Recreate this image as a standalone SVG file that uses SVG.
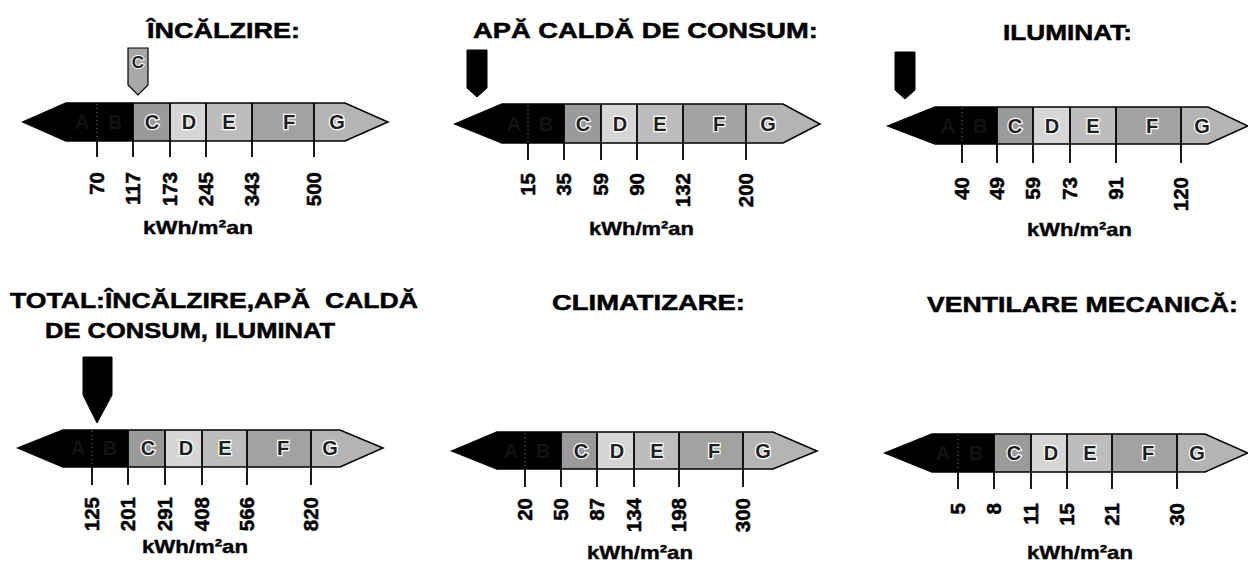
<svg xmlns="http://www.w3.org/2000/svg" width="1248" height="566" viewBox="0 0 1248 566">
<style>
text{font-family:"Liberation Sans",Arial,sans-serif;font-weight:bold;fill:#000}
.title{font-size:22px;stroke:#000;stroke-width:0.5px}
.unit{font-size:19px;stroke:#000;stroke-width:0.4px}
.num{font-size:20.5px;text-anchor:end;stroke:#000;stroke-width:0.5px}
.lt{font-size:20px;text-anchor:middle;fill:#1e1e1e;stroke:#fff;stroke-width:2.5px;paint-order:stroke}
.fa{font-size:20px;text-anchor:middle;fill:#121212}
.blk{fill:#000}
.sC{fill:#9a9a9a}.sD{fill:#d6d6d6}.sE{fill:#bdbdbd}.sF{fill:#a2a2a2}.sG{fill:#b4b4b4}
.out{fill:none;stroke:#000;stroke-width:1.5}
.div{stroke:#000;stroke-width:1.8}
.dot{stroke:#fff;stroke-width:1;stroke-dasharray:1 3;opacity:.5}
.ind{fill:#000;stroke:#000;stroke-width:1}
.indg{fill:#a8a8a8;stroke:#000;stroke-width:1.2}
.il{font-size:17px;text-anchor:middle;fill:#1e1e1e;stroke:#fff;stroke-width:2px;paint-order:stroke}
</style>

<g id="panel-incalzire">
<text class="title" x="147" y="38" textLength="153" lengthAdjust="spacingAndGlyphs">ÎNCĂLZIRE:</text>
<path class="indg" d="M128,48 H148 V85 L138,95 L128,85 Z"/>
<text class="il" x="138" y="68">C</text>
<polygon class="blk" points="23,122 66,103 133,103 133,141 66,141"/>
<rect class="sC" x="133" y="103" width="37" height="38"/>
<rect class="sD" x="170" y="103" width="36" height="38"/>
<rect class="sE" x="206" y="103" width="46" height="38"/>
<rect class="sF" x="252" y="103" width="62" height="38"/>
<polygon class="sG" points="314,103 345,103 388,122 345,141 314,141"/>
<path class="out" d="M23,122 L66,103 H345 L388,122 L345,141 H66 Z"/>
<line class="dot" x1="97" y1="104" x2="97" y2="140"/>
<g class="ticks">
<line class="div" x1="97" y1="141" x2="97" y2="157"/>
<line class="div" x1="133" y1="103" x2="133" y2="157"/>
<line class="div" x1="170" y1="103" x2="170" y2="157"/>
<line class="div" x1="206" y1="103" x2="206" y2="157"/>
<line class="div" x1="252" y1="103" x2="252" y2="157"/>
<line class="div" x1="314" y1="103" x2="314" y2="157"/>
</g>
<text class="fa" x="82" y="129">A</text><text class="fa" x="115" y="129">B</text>
<text class="lt" x="152" y="129">C</text><text class="lt" x="189" y="129">D</text><text class="lt" x="229" y="129">E</text><text class="lt" x="289" y="129">F</text><text class="lt" x="337" y="129">G</text>
<text class="num" transform="translate(104,172) rotate(-90)">70</text>
<text class="num" transform="translate(140,172) rotate(-90)">117</text>
<text class="num" transform="translate(177,172) rotate(-90)">173</text>
<text class="num" transform="translate(213,172) rotate(-90)">245</text>
<text class="num" transform="translate(259,172) rotate(-90)">343</text>
<text class="num" transform="translate(321,172) rotate(-90)">500</text>
<text class="unit" x="143" y="234" textLength="110" lengthAdjust="spacingAndGlyphs">kWh/m²an</text>
</g>

<g id="panel-apa-calda">
<text class="title" x="473" y="38" textLength="345" lengthAdjust="spacingAndGlyphs">APĂ CALDĂ DE CONSUM:</text>
<path class="ind" d="M467,50 H487 V88 L477,97 L467,88 Z"/>
<polygon class="blk" points="455,124 502,104 564,104 564,143 502,143"/>
<rect class="sC" x="564" y="104" width="37" height="39"/>
<rect class="sD" x="601" y="104" width="36" height="39"/>
<rect class="sE" x="637" y="104" width="46" height="39"/>
<rect class="sF" x="683" y="104" width="63" height="39"/>
<polygon class="sG" points="746,104 783,104 820,124 783,143 746,143"/>
<path class="out" d="M455,124 L502,104 H783 L820,124 L783,143 H502 Z"/>
<line class="dot" x1="528" y1="105" x2="528" y2="142"/>
<g class="ticks">
<line class="div" x1="528" y1="143" x2="528" y2="160"/>
<line class="div" x1="564" y1="104" x2="564" y2="160"/>
<line class="div" x1="601" y1="104" x2="601" y2="160"/>
<line class="div" x1="637" y1="104" x2="637" y2="160"/>
<line class="div" x1="683" y1="104" x2="683" y2="160"/>
<line class="div" x1="746" y1="104" x2="746" y2="160"/>
</g>
<text class="fa" x="514" y="131">A</text><text class="fa" x="546" y="131">B</text>
<text class="lt" x="583" y="131">C</text><text class="lt" x="620" y="131">D</text><text class="lt" x="660" y="131">E</text><text class="lt" x="719" y="131">F</text><text class="lt" x="768" y="131">G</text>
<text class="num" transform="translate(535,173) rotate(-90)">15</text>
<text class="num" transform="translate(571,173) rotate(-90)">35</text>
<text class="num" transform="translate(608,173) rotate(-90)">59</text>
<text class="num" transform="translate(644,173) rotate(-90)">90</text>
<text class="num" transform="translate(690,173) rotate(-90)">132</text>
<text class="num" transform="translate(753,173) rotate(-90)">200</text>
<text class="unit" x="589" y="235" textLength="105" lengthAdjust="spacingAndGlyphs">kWh/m²an</text>
</g>

<g id="panel-iluminat">
<text class="title" x="1003" y="40" textLength="129" lengthAdjust="spacingAndGlyphs">ILUMINAT:</text>
<path class="ind" d="M895,52 H915 V90 L905,99 L895,90 Z"/>
<polygon class="blk" points="888,126 935,107 997,107 997,144 935,144"/>
<rect class="sC" x="997" y="107" width="36" height="37"/>
<rect class="sD" x="1033" y="107" width="37" height="37"/>
<rect class="sE" x="1070" y="107" width="46" height="37"/>
<rect class="sF" x="1116" y="107" width="65" height="37"/>
<polygon class="sG" points="1181,107 1208,107 1248,126 1208,144 1181,144"/>
<path class="out" d="M888,126 L935,107 H1208 L1248,126 L1208,144 H935 Z"/>
<line class="dot" x1="962" y1="108" x2="962" y2="143"/>
<g class="ticks">
<line class="div" x1="962" y1="144" x2="962" y2="163"/>
<line class="div" x1="997" y1="107" x2="997" y2="163"/>
<line class="div" x1="1033" y1="107" x2="1033" y2="163"/>
<line class="div" x1="1070" y1="107" x2="1070" y2="163"/>
<line class="div" x1="1116" y1="107" x2="1116" y2="163"/>
<line class="div" x1="1181" y1="107" x2="1181" y2="163"/>
</g>
<text class="fa" x="948" y="133">A</text><text class="fa" x="980" y="133">B</text>
<text class="lt" x="1015" y="133">C</text><text class="lt" x="1052" y="133">D</text><text class="lt" x="1093" y="133">E</text><text class="lt" x="1152" y="133">F</text><text class="lt" x="1202" y="133">G</text>
<text class="num" transform="translate(969,177) rotate(-90)">40</text>
<text class="num" transform="translate(1004,177) rotate(-90)">49</text>
<text class="num" transform="translate(1040,177) rotate(-90)">59</text>
<text class="num" transform="translate(1077,177) rotate(-90)">73</text>
<text class="num" transform="translate(1123,177) rotate(-90)">91</text>
<text class="num" transform="translate(1188,177) rotate(-90)">120</text>
<text class="unit" x="1027" y="236" textLength="105" lengthAdjust="spacingAndGlyphs">kWh/m²an</text>
</g>

<g id="panel-total">
<text class="title" x="10" y="308" textLength="408" lengthAdjust="spacingAndGlyphs" xml:space="preserve">TOTAL:ÎNCĂLZIRE,APĂ  CALDĂ</text>
<text class="title" x="45" y="338" textLength="290" lengthAdjust="spacingAndGlyphs">DE CONSUM, ILUMINAT</text>
<path class="ind" d="M83,357 H112 V395 L97,423 L83,395 Z"/>
<polygon class="blk" points="18,448 63,430 128,430 128,467 63,467"/>
<rect class="sC" x="128" y="430" width="37" height="37"/>
<rect class="sD" x="165" y="430" width="37" height="37"/>
<rect class="sE" x="202" y="430" width="45" height="37"/>
<rect class="sF" x="247" y="430" width="64" height="37"/>
<polygon class="sG" points="311,430 340,430 383,448 340,467 311,467"/>
<path class="out" d="M18,448 L63,430 H340 L383,448 L340,467 H63 Z"/>
<line class="dot" x1="92" y1="431" x2="92" y2="466"/>
<g class="ticks">
<line class="div" x1="92" y1="467" x2="92" y2="485"/>
<line class="div" x1="128" y1="430" x2="128" y2="485"/>
<line class="div" x1="165" y1="430" x2="165" y2="485"/>
<line class="div" x1="202" y1="430" x2="202" y2="485"/>
<line class="div" x1="247" y1="430" x2="247" y2="485"/>
<line class="div" x1="311" y1="430" x2="311" y2="485"/>
</g>
<text class="fa" x="78" y="455">A</text><text class="fa" x="110" y="455">B</text>
<text class="lt" x="148" y="455">C</text><text class="lt" x="186" y="455">D</text><text class="lt" x="225" y="455">E</text><text class="lt" x="283" y="455">F</text><text class="lt" x="330" y="455">G</text>
<text class="num" transform="translate(99,497) rotate(-90)">125</text>
<text class="num" transform="translate(135,497) rotate(-90)">201</text>
<text class="num" transform="translate(172,497) rotate(-90)">291</text>
<text class="num" transform="translate(209,497) rotate(-90)">408</text>
<text class="num" transform="translate(254,497) rotate(-90)">566</text>
<text class="num" transform="translate(318,497) rotate(-90)">820</text>
<text class="unit" x="142" y="553" textLength="106" lengthAdjust="spacingAndGlyphs">kWh/m²an</text>
</g>

<g id="panel-climatizare">
<text class="title" x="552" y="310" textLength="193" lengthAdjust="spacingAndGlyphs">CLIMATIZARE:</text>
<polygon class="blk" points="452,451 497,432 561,432 561,469 497,469"/>
<rect class="sC" x="561" y="432" width="36" height="37"/>
<rect class="sD" x="597" y="432" width="37" height="37"/>
<rect class="sE" x="634" y="432" width="45" height="37"/>
<rect class="sF" x="679" y="432" width="64" height="37"/>
<polygon class="sG" points="743,432 773,432 817,451 773,469 743,469"/>
<path class="out" d="M452,451 L497,432 H773 L817,451 L773,469 H497 Z"/>
<line class="dot" x1="525" y1="433" x2="525" y2="468"/>
<g class="ticks">
<line class="div" x1="525" y1="469" x2="525" y2="487"/>
<line class="div" x1="561" y1="432" x2="561" y2="487"/>
<line class="div" x1="597" y1="432" x2="597" y2="487"/>
<line class="div" x1="634" y1="432" x2="634" y2="487"/>
<line class="div" x1="679" y1="432" x2="679" y2="487"/>
<line class="div" x1="743" y1="432" x2="743" y2="487"/>
</g>
<text class="fa" x="511" y="458">A</text><text class="fa" x="543" y="458">B</text>
<text class="lt" x="581" y="458">C</text><text class="lt" x="617" y="458">D</text><text class="lt" x="657" y="458">E</text><text class="lt" x="714" y="458">F</text><text class="lt" x="763" y="458">G</text>
<text class="num" transform="translate(532,498) rotate(-90)">20</text>
<text class="num" transform="translate(568,498) rotate(-90)">50</text>
<text class="num" transform="translate(604,498) rotate(-90)">87</text>
<text class="num" transform="translate(641,498) rotate(-90)">134</text>
<text class="num" transform="translate(686,498) rotate(-90)">198</text>
<text class="num" transform="translate(750,498) rotate(-90)">300</text>
<text class="unit" x="587" y="559" textLength="106" lengthAdjust="spacingAndGlyphs">kWh/m²an</text>
</g>

<g id="panel-ventilare">
<text class="title" x="927" y="312" textLength="311" lengthAdjust="spacingAndGlyphs">VENTILARE MECANICĂ:</text>
<polygon class="blk" points="885,453 932,434 994,434 994,472 932,472"/>
<rect class="sC" x="994" y="434" width="37" height="38"/>
<rect class="sD" x="1031" y="434" width="36" height="38"/>
<rect class="sE" x="1067" y="434" width="45" height="38"/>
<rect class="sF" x="1112" y="434" width="65" height="38"/>
<polygon class="sG" points="1177,434 1205,434 1248,453 1205,472 1177,472"/>
<path class="out" d="M885,453 L932,434 H1205 L1248,453 L1205,472 H932 Z"/>
<line class="dot" x1="958" y1="435" x2="958" y2="471"/>
<g class="ticks">
<line class="div" x1="958" y1="472" x2="958" y2="489"/>
<line class="div" x1="994" y1="434" x2="994" y2="489"/>
<line class="div" x1="1031" y1="434" x2="1031" y2="489"/>
<line class="div" x1="1067" y1="434" x2="1067" y2="489"/>
<line class="div" x1="1112" y1="434" x2="1112" y2="489"/>
<line class="div" x1="1177" y1="434" x2="1177" y2="489"/>
</g>
<text class="fa" x="943" y="460">A</text><text class="fa" x="976" y="460">B</text>
<text class="lt" x="1014" y="460">C</text><text class="lt" x="1051" y="460">D</text><text class="lt" x="1090" y="460">E</text><text class="lt" x="1148" y="460">F</text><text class="lt" x="1197" y="460">G</text>
<text class="num" transform="translate(965,503) rotate(-90)">5</text>
<text class="num" transform="translate(1001,503) rotate(-90)">8</text>
<text class="num" transform="translate(1038,503) rotate(-90)">11</text>
<text class="num" transform="translate(1074,503) rotate(-90)">15</text>
<text class="num" transform="translate(1119,503) rotate(-90)">21</text>
<text class="num" transform="translate(1184,503) rotate(-90)">30</text>
<text class="unit" x="1027" y="559" textLength="106" lengthAdjust="spacingAndGlyphs">kWh/m²an</text>
</g>
</svg>
